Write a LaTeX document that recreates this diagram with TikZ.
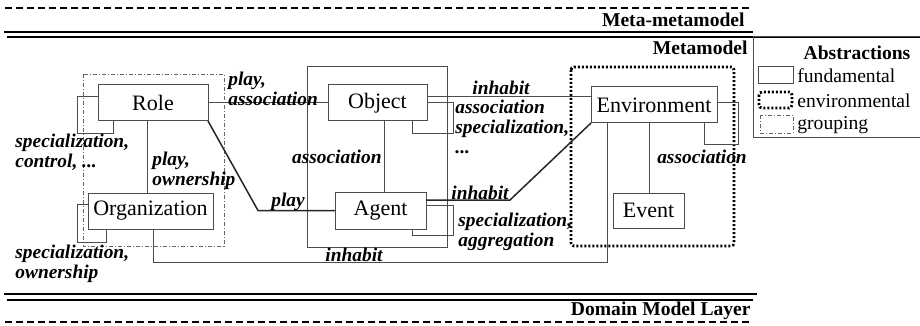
\documentclass[tikz,border=0pt]{standalone}
\usepackage{fontspec}
\setmainfont{Liberation Serif}
\usetikzlibrary{calc}

\begin{document}
\begin{tikzpicture}[
                x=0.5pt, y=-0.5pt,
                entity/.style={rectangle, draw=black!70, line width=0.5pt, inner sep=0pt, outer sep=0pt, minimum height=18pt, font=\fontsize{11}{12}\selectfont},
                rel/.style={draw=black!70, line width=0.5pt},
                strongrel/.style={draw=black!85, line width=0.75pt},
                lbl/.style={font=\fontsize{9.7}{10}\selectfont\bfseries\itshape, inner sep=0pt, align=left},
                layer/.style={font=\fontsize{9.8}{11}\selectfont\bfseries, inner sep=0pt, anchor=east},
                legtext/.style={font=\fontsize{9.8}{11}\selectfont, inner sep=0pt, anchor=west},
                grouping/.style={draw=black!60, line width=0.4pt, dash pattern=on 2pt off 1pt on 0.5pt off 1pt},
                envgroup/.style={draw=black, line width=1.4pt, dash pattern=on 1pt off 1pt, rounded corners=1.5pt},
                layerdash/.style={line width=1.2pt, dash pattern=on 3.5pt off 2pt},
            ]
            \useasboundingbox (0,0) rectangle (920,326);

            % layer separators
            \draw[layerdash] (5,8) -- (750,8);
            \node[layer] (metameta) at (745,20) {Meta-metamodel};
            \draw[line width=1pt] (4,32) -- (753,32);
            \draw[line width=0.65pt] (7,37) -- (930,37);
            \node[layer] (meta) at (748,48) {Metamodel};
            \draw[line width=1pt] (4,294) -- (757,294);
            \draw[line width=1pt] (7,300) -- (753,300);
            \node[layer] (domain) at (751,311) {Domain Model Layer};
            \draw[layerdash] (5,322) -- (750,322);

            % legend
            \draw[line width=0.5pt, draw=black!70] (753,37) rectangle (930,137);
            \node[font=\fontsize{9.8}{11}\selectfont\bfseries, inner sep=0pt] (abstr) at (857,53) {Abstractions};
            \draw[rel] (758,67) rectangle (793,84);
            \node[legtext] (fund) at (797,76) {fundamental};
            \draw[envgroup] (759,92) rectangle (792,108);
            \node[legtext] (envir) at (797,101) {environmental};
            \draw[grouping] (760,115) rectangle (793,133);
            \node[legtext] (group) at (797,125) {grouping};

            % groups
            \draw[grouping] (83,74) rectangle (224,246);
            \draw[rel] (307,67) rectangle (447,247);
            \draw[envgroup] (571,67) rectangle (734,246);

            % entities
            \node[entity, minimum width=55pt] (Role) at (153,103) {Role};
            \node[entity, minimum width=62.5pt] (Org) at (150.5,211) {Organization};
            \node[entity, minimum width=49.5pt] (Object) at (377.5,103) {Object};
            \node[entity, minimum width=45.5pt, minimum height=18.5pt] (Agent) at (380.5,210.5) {Agent};
            \node[entity, minimum width=63pt] (Env) at (654,105) {Environment};
            \node[entity, minimum width=35.5pt, minimum height=17.5pt] (Event) at (648.5,210.5) {Event};

            % relations
            \draw[rel] (Role.east) -- (Object.west);
            \draw[rel] ($(Role.south)+(-6,0)$) coordinate (ro) -- (ro |- Org.north);
            \draw[strongrel] (Role.south east) -- ($(Agent.west)+(-77,0)$) -- (Agent.west);
            \draw[rel] ($(Object.south)+(6.5,0)$) coordinate (oa) -- (oa |- Agent.north);
            \draw[rel] ($(Object.east)+(0,-6)$) coordinate (oe) -- (oe -| Env.west);
            \draw[strongrel] ($(Agent.east)+(0,-10.5)$) -- ++(84,0) -- (Env.south west);
            \draw[rel] ($(Env.south)+(-5,0)$) coordinate (ee) -- (ee |- Event.north);
            \draw[rel] ($(Org.south)+(2.5,0)$) -- ++(0,33) -| ($(Env.south)+(-47,0)$);

            % self relations
            \draw[rel] ($(Role.west)+(0,-6)$) -- ++(-21,0) |- ($(Role.south)+(-40,12)$) -- ($(Role.south)+(-40,0)$);
            \draw[rel] ($(Org.west)+(0,-7)$) -- ++(-11,0) |- ($(Org.south)+(-44.5,13)$) -- ($(Org.south)+(-44.5,0)$);
            \draw[rel] (Object.east) -- ++(26,0) |- ($(Object.south)+(34.5,12)$) -- ($(Object.south)+(34.5,0)$);
            \draw[rel] ($(Agent.east)+(0,-5.5)$) -- ++(27,0) |- ($(Agent.south)+(31.5,6)$) -- ($(Agent.south)+(31.5,0)$);
            \draw[rel] ($(Env.east)+(0,-2)$) -- ++(21,0) |- ($(Env.south)+(50,21)$) -- ($(Env.south)+(50,0)$);

            % labels
            \node[lbl, anchor=west] (lPlayAssoc) at (228,88.5) {play,\\association};
            \node[lbl, anchor=west] (lSpecCtrl) at (15,152) {specialization,\\control, ...};
            \node[lbl, anchor=west] (lPlayOwn) at (152,170.5) {play,\\ownership};
            \node[lbl] (lPlay) at (288,202) {play};
            \node[lbl, anchor=east] (lAssocOA) at (382,157) {association};
            \node[lbl] (lInhabitOE) at (501,88) {inhabit};
            \node[lbl, anchor=west] (lObjLoop) at (455,127) {association\\specialization,\\...};
            \node[lbl] (lInhabitAE) at (480,193) {inhabit};
            \node[lbl, anchor=west] (lAgentLoop) at (458,231.5) {specialization,\\aggregation};
            \node[lbl] (lAssocEnv) at (702,157) {association};
            \node[lbl, anchor=west] (lSpecOwn) at (15,264) {specialization,\\ownership};
            \node[lbl] (lInhabitOrg) at (354,255) {inhabit};
        \end{tikzpicture}
\end{document}
